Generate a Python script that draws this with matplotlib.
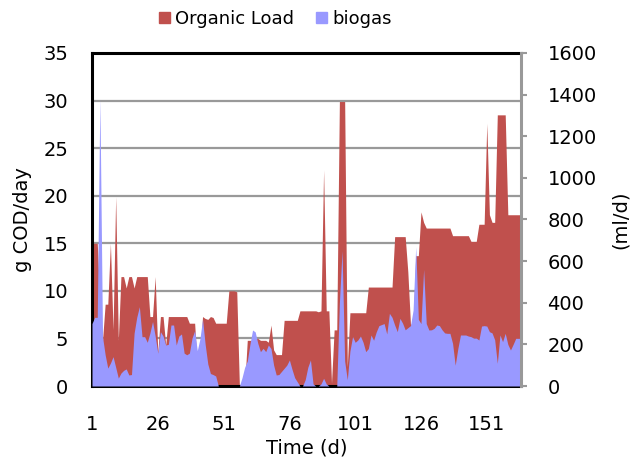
import matplotlib.pyplot as plt
from matplotlib.patches import Patch

# Daily values (days 1..164)
organic_load = [
    15, 15, 15, 9, 4.8, 8.6, 8.6, 15, 5.9, 19.9,
    4.8, 11.5, 11.5, 10.3, 11.5, 11.5, 10.3, 11.5, 11.5, 11.5,
    11.5, 11.5, 7.3, 7.3, 11.5, 3.5, 7.3, 7.3, 4.3, 7.3,
    7.3, 7.3, 7.3, 7.3, 7.3, 7.3, 7.3, 6.6, 6.6, 6.6,
    2, 3, 7.3, 7.1, 7.0, 7.3, 7.2, 6.6, 6.6, 6.6,
    6.6, 6.6, 10, 10, 10, 9.9, 0, 0, 0, 4.8,
    4.8, 4.8, 5, 5, 4.8, 4.8, 4.8, 4.6, 6.4, 3.8,
    3.3, 3.3, 3.3, 6.9, 6.9, 6.9, 6.9, 6.9, 6.9, 7.9,
    7.9, 7.9, 7.9, 7.9, 7.9, 7.9, 7.8, 7.9, 22.7, 7.9,
    7.9, 0.3, 5.9, 5.9, 29.9, 29.9, 29.9, 2, 7.7, 7.7,
    7.7, 7.7, 7.7, 7.7, 7.7, 10.4, 10.4, 10.4, 10.4, 10.4,
    10.4, 10.4, 10.4, 10.4, 10.4, 15.7, 15.7, 15.7, 15.7, 15.7,
    12, 6.5, 6.5, 13.7, 13.7, 18.3, 17.2, 16.6, 16.6, 16.6,
    16.6, 16.6, 16.6, 16.6, 16.6, 16.6, 16.6, 15.8, 15.8, 15.8,
    15.8, 15.8, 15.8, 15.8, 15.2, 15.2, 15.2, 17.0, 17.0, 17.0,
    27.6, 18, 17.2, 17.2, 28.5, 28.5, 28.5, 28.5, 18, 18,
    18, 18, 18, 18,
]

biogas = [
    300, 330, 330, 1380, 237, 150, 86, 110, 141, 90,
    38, 62, 75, 82, 53, 55, 254, 330, 381, 237,
    237, 210, 254, 310, 240, 158, 261, 240, 197, 200,
    293, 293, 197, 240, 250, 158, 150, 158, 230, 266,
    170, 226, 320, 200, 106, 60, 55, 48, 0, 0,
    0, 0, 0, 0, 0, 0, 0, 40, 90, 120,
    200, 269, 260, 205, 165, 181, 165, 197, 180, 101,
    53, 55, 70, 85, 100, 125, 80, 40, 20, 0,
    0, 30, 90, 125, 10, 0, 0, 10, 37, 10,
    0, 0, 0, 0, 400, 650, 120, 30, 168, 237,
    210, 221, 240, 210, 165, 180, 245, 220, 260, 290,
    295, 300, 250, 349, 330, 293, 261, 325, 302, 270,
    280, 290, 365, 669, 320, 300, 560, 300, 269, 270,
    277, 293, 290, 270, 255, 253, 253, 205, 100, 180,
    245, 245, 245, 240, 237, 230, 230, 221, 288, 290,
    288, 261, 255, 222, 109, 245, 213, 253, 200, 173,
    200, 229, 229, 229,
]

days = list(range(1, len(organic_load) + 1))
x_ticks = [1, 26, 51, 76, 101, 126, 151]

red = '#C0504D'
blue = '#9999FF'
fs = 14

fig = plt.figure(figsize=(6.38, 4.61), dpi=100)
ax = fig.add_axes([92 / 638, 1 - 386 / 461, (521 - 92) / 638, (386 - 53) / 461])

ax.fill_between(days, organic_load, 0, color=red, linewidth=0, zorder=2)
ax.set_xlim(1, days[-1])
ax.set_ylim(0, 35)
ax.set_yticks(range(0, 36, 5))
ax.set_xticks(x_ticks)
ax.yaxis.grid(True, color='#999999', linewidth=1.6, zorder=0)
ax.set_axisbelow(True)
ax.tick_params(axis='y', length=0, labelsize=fs, pad=17)
ax.tick_params(axis='x', length=0, labelsize=fs, pad=21)
ax.set_ylabel('g COD/day', fontsize=fs, labelpad=8)
ax.set_xlabel('Time (d)', fontsize=fs, labelpad=3)
for side in ['left', 'top', 'bottom']:
    ax.spines[side].set_linewidth(2.2)
    ax.spines[side].set_color('black')
ax.spines['right'].set_visible(False)

ax2 = ax.twinx()
ax2.fill_between(days, biogas, 0, color=blue, linewidth=0)
ax2.set_ylim(0, 1600)
ax2.set_yticks(range(0, 1601, 200))
ax2.tick_params(axis='y', direction='out', length=4, width=1.5, color='#999999',
                labelsize=fs, pad=15)
ax2.set_ylabel('(ml/d)', fontsize=fs, labelpad=10)
for side in ['left', 'top', 'bottom']:
    ax2.spines[side].set_visible(False)
ax2.spines['right'].set_color('#999999')
ax2.spines['right'].set_linewidth(2.2)

handles = [Patch(color=red, label='Organic Load'), Patch(color=blue, label='biogas')]
fig.legend(handles=handles, loc='center left', bbox_to_anchor=(152 / 638, 1 - 19 / 461),
           ncol=2, frameon=False, fontsize=13, handlelength=0.6, handleheight=0.6,
           handletextpad=0.3, columnspacing=1.2, borderaxespad=0)

fig.savefig('out.png', dpi=100)
